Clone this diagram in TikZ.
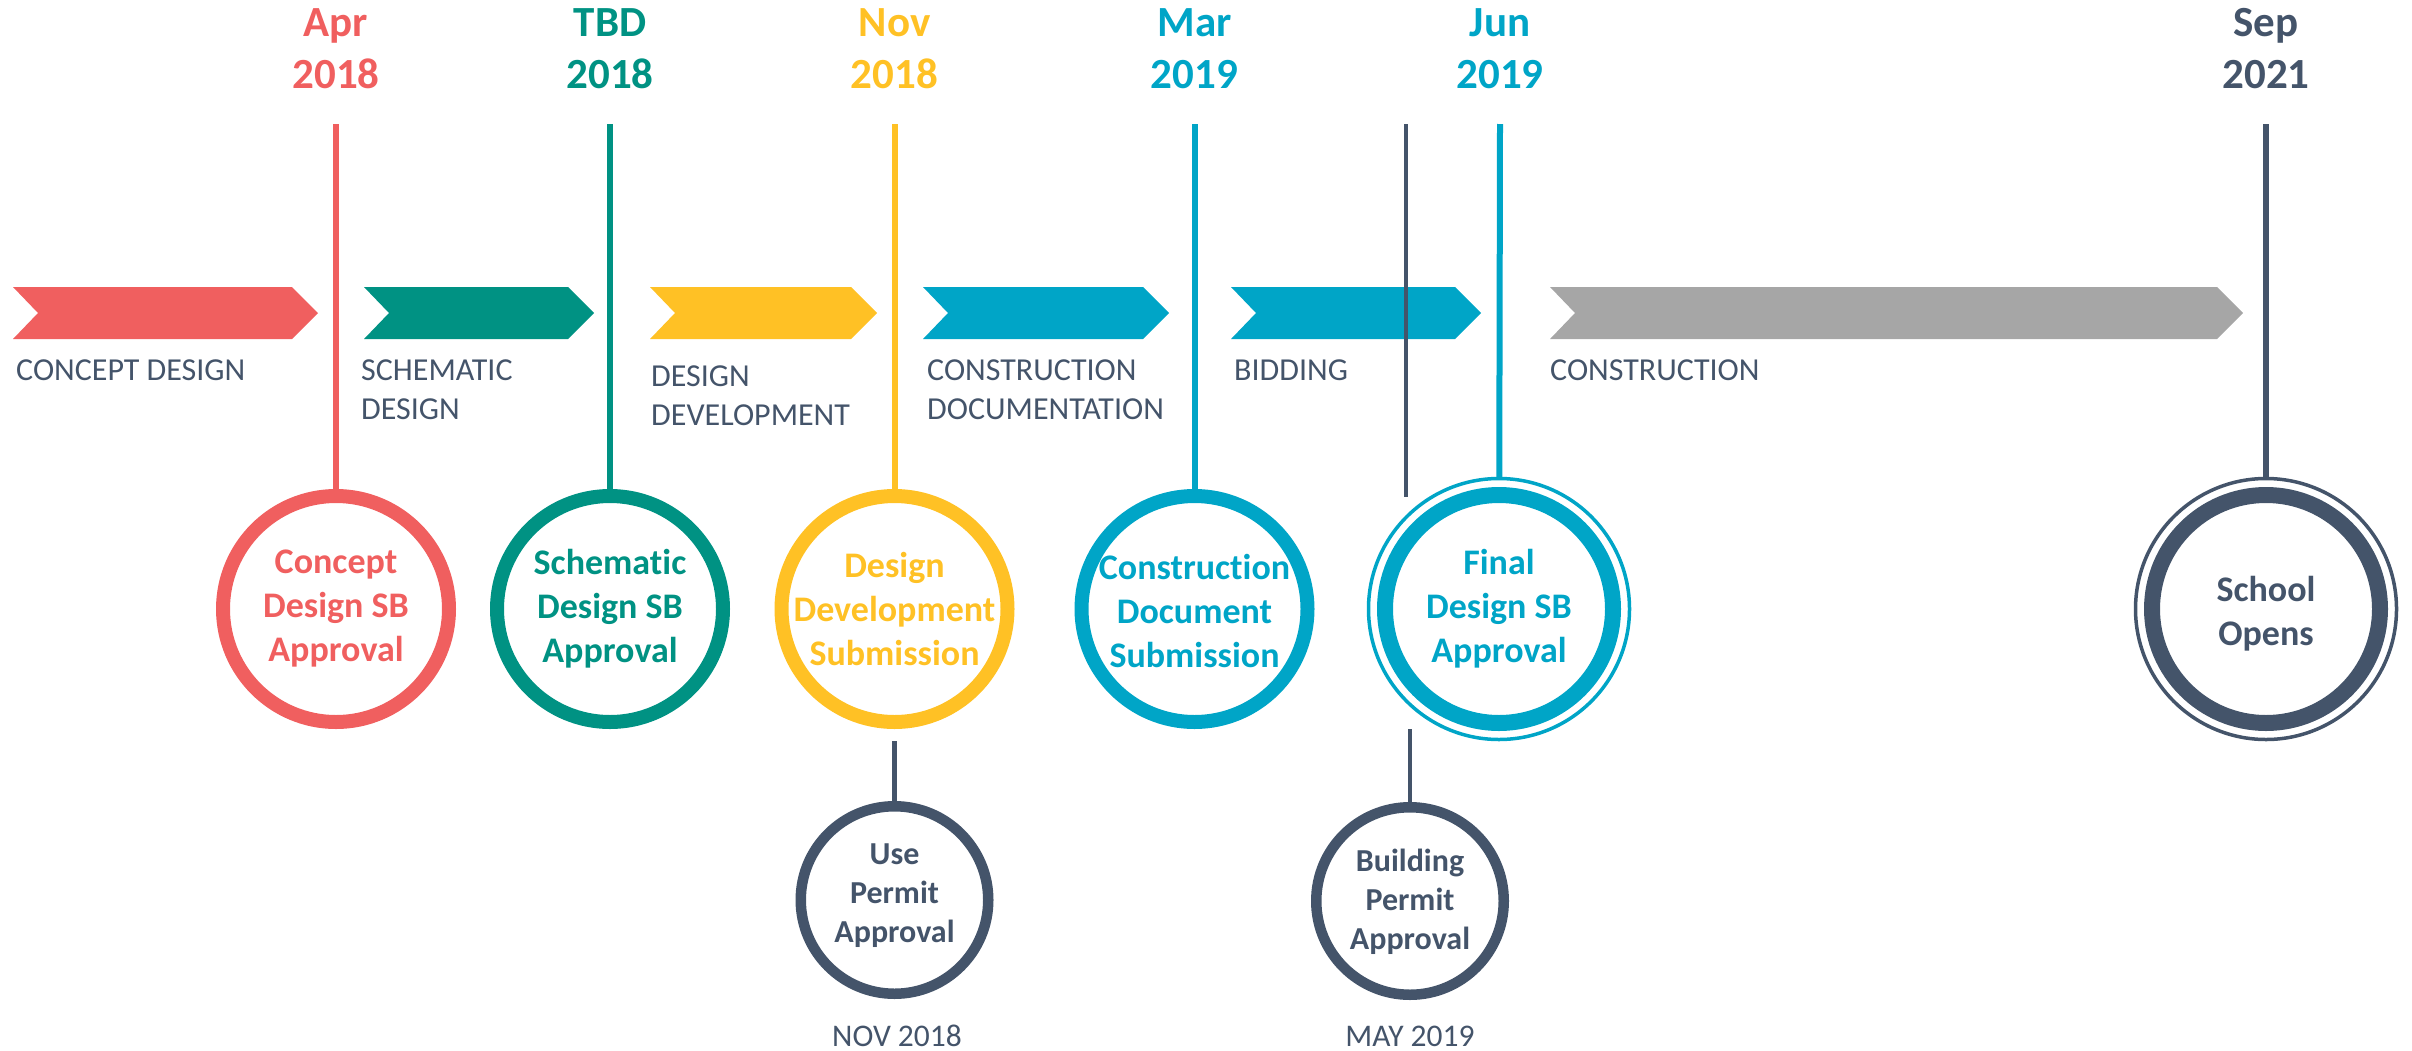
\documentclass[tikz,border=0pt]{standalone}
\usepackage{fontspec}
\setmainfont{Carlito}[Ligatures=NoCommon]
\usetikzlibrary{positioning}
\definecolor{cred}{HTML}{F05F5F}
\definecolor{cteal}{HTML}{009283}
\definecolor{cyel}{HTML}{FFC125}
\definecolor{cblue}{HTML}{00A5C7}
\definecolor{cgray}{HTML}{A6A6A6}
\definecolor{cslate}{HTML}{44546A}
\tikzset{ring/.style={draw=#1,circle,line width=14pt,minimum size=226pt,inner
sep=0pt},dring/.style={draw=#1,circle,line width=3.5pt,minimum size=261pt,inner
sep=0pt},pring/.style={draw=cslate,circle,line width=10.5pt,minimum
size=187.5pt,inner sep=0pt},mtext/.style={text=#1,align=center,inner sep=0pt,
font=\bfseries\fontsize{36}{44}\selectfont},ptext/.style={text=cslate,align=center,
inner sep=0pt,font=\bfseries\fontsize{32}{39}\selectfont},date/.style={text=#1,
align=center,inner sep=0pt,anchor=south,font=\bfseries\fontsize{43}{52}\selectfont},
phase/.style={text=cslate,align=left,inner sep=0pt,anchor=north west,
font=\fontsize{32}{39}\selectfont},stem/.style={draw=#1,line width=6pt},
pstem/.style={draw=cslate,line width=4.5pt}}

\begin{document}
\begin{tikzpicture}[x=1pt,y=-1pt]
	\useasboundingbox (0,0) rectangle (2412,1050);
	% phase arrows
	\foreach \a/\b/\c in {13/292/cred,364/568/cteal,650/851/cyel,923/1143/cblue,
		1231/1455/cblue,1550/2217/cgray}
	\fill[\c] (\a,287) -- (\b,287) -- (\b+26,313) -- (\b,339) -- (\a,339)
	-- (\a+25,313) -- cycle;
	\node[phase] (pConcept) at (16,360) {CONCEPT DESIGN};
	\node[phase] (pSchem) at (361,360) {SCHEMATIC\\DESIGN};
	\node[phase] (pDesDev) at (651,366) {DESIGN\\DEVELOPMENT};
	\node[phase] (pConDoc) at (927,360) {CONSTRUCTION\\DOCUMENTATION};
	\node[phase] (pBid) at (1234,360) {BIDDING};
	\node[phase] (pConstr) at (1550,360) {CONSTRUCTION};
	% dates
	\node[date=cred] (dApr) at (336,89) {Apr\\2018};
	\node[date=cteal] (dTbd) at (610,89) {TBD\\2018};
	\node[date=cyel] (dNov) at (894.5,89) {Nov\\2018};
	\node[date=cblue] (dMar) at (1194.5,89) {Mar\\2019};
	\node[date=cblue] (dJun) at (1500,89) {Jun\\2019};
	\node[date=cslate] (dSep) at (2266,89) {Sep\\2021};
	% milestones
	\node[ring=cred] (mConcept) at (336,609) {};
	\node[ring=cteal] (mSchem) at (610,609) {};
	\node[ring=cyel] (mDesDev) at (894.5,609) {};
	\node[ring=cblue] (mConDoc) at (1194.5,609) {};
	\node[dring=cblue] (mFinal) at (1499,609) {};
	\draw[cblue,line width=16pt] (mFinal) circle (114);
	\node[dring=cslate] (mSchool) at (2266,609) {};
	\draw[cslate,line width=16pt] (mSchool) circle (114);
	\node[mtext=cred] (tConcept) at (mConcept) {Concept\\Design SB\\Approval};
	\node[mtext=cteal] (tSchem) at (mSchem) {Schematic\\Design SB\\Approval};
	\node[mtext=cyel] (tDesDev) at (mDesDev) {Design\\Development\\Submission};
	\node[mtext=cblue] (tConDoc) at (1194.5,611) {Construction\\Document\\Submission};
	\node[mtext=cblue] (tFinal) at (mFinal) {Final\\Design SB\\Approval};
	\node[mtext=cslate] (tSchool) at (2266,614) {School\\Opens};
	% permits
	\node[pring,below=72pt of mDesDev] (mUse) {};
	\node[pring] (mBuild) at (1410,901) {};
	\node[ptext] (tUse) at (894.5,896) {Use\\Permit\\Approval};
	\node[ptext] (tBuild) at (1410,902) {Building\\Permit\\Approval};
	\node[phase,anchor=base,font=\fontsize{31.5}{39}\selectfont] (dUse) at (897,1046) {NOV 2018};
	\node[phase,anchor=base,font=\fontsize{31.5}{39}\selectfont] (dBuild) at (1410,1046) {MAY 2019};
	% stems
	\coordinate (sApr) at (336,124);
	\coordinate (sTbd) at (610,124);
	\coordinate (sNov) at (894.5,124);
	\coordinate (sMar) at (1194.5,124);
	\coordinate (sJun) at (1500,124);
	\coordinate (sSep) at (2266,124);
	\coordinate (sMay) at (1406,124);
	\coordinate (eMay) at (1406,497);
	\coordinate (sUse) at (894.5,741);
	\coordinate (sBuild) at (1410,729);
	\draw[stem=cred] (sApr) -- (mConcept);
	\draw[stem=cteal] (sTbd) -- (mSchem);
	\draw[stem=cyel] (sNov) -- (mDesDev);
	\draw[stem=cblue] (sMar) -- (mConDoc);
	\draw[stem=cblue] (sJun) -- (mFinal);
	\draw[stem=cslate] (sSep) -- (mSchool);
	\draw[pstem] (sMay) -- (eMay);
	\draw[pstem] (sUse) -- (mUse);
	\draw[pstem] (sBuild) -- (mBuild);
\end{tikzpicture}
\end{document}
